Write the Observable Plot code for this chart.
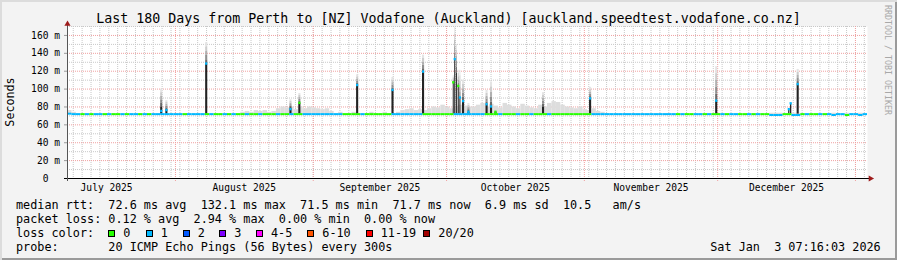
<!DOCTYPE html>
<html>
<head>
<meta charset="utf-8">
<script src="https://cdn.jsdelivr.net/npm/d3@7"></script>
<script src="https://cdn.jsdelivr.net/npm/@observablehq/plot@0.6"></script>
<style>
  html,body{margin:0;padding:0;background:#f3f3f3;}
  #wrap{position:relative;width:897px;height:260px;background:#f3f3f3;overflow:hidden;
        font-family:"DejaVu Sans Mono",monospace;color:#000;
        box-shadow: inset 2px 2px 0 #dcdcdc, inset -2px -2px 0 #9a9a9a;}
  #chart{position:absolute;left:0;top:0;}
  .t{position:absolute;white-space:pre;line-height:14px;font-size:11.8px;}
  #title{position:absolute;left:0;width:897px;top:10.5px;text-align:center;font-size:13.3px;white-space:pre;line-height:16px;}
  #ylab{position:absolute;left:10px;top:101.5px;transform:translate(-50%,-50%) rotate(-90deg);font-size:11.7px;white-space:pre;line-height:14px;}
  #wm{position:absolute;left:888px;top:60px;transform:translate(-50%,-50%) rotate(90deg);font-size:8.3px;color:#a8a8a8;white-space:pre;line-height:10px;}
  .box{position:absolute;width:7px;height:7px;box-sizing:border-box;border:1px solid #000;}
</style>
</head>
<body>
<div id="wrap">
  <div id="title">Last 180 Days from Perth to [NZ] Vodafone (Auckland) [auckland.speedtest.vodafone.co.nz]</div>
  <div id="chart"></div>
  <div id="ylab">Seconds</div>
  <div id="wm">RRDTOOL / TOBI OETIKER</div>
  <div id="legend"></div>
</div>
<script>
// ---------- data ----------
const timeDomain = ["2025-07-07T17:00:00Z", "2026-01-03T17:00:00Z"];
const yMaxMs = 170;
const yTickMs = [0, 20, 40, 60, 80, 100, 120, 140, 160];
const monthStarts = ["2025-07-01","2025-08-01","2025-09-01","2025-10-01","2025-11-01","2025-12-01","2026-01-01"];
const monthLabels = ["July 2025","August 2025","September 2025","October 2025","November 2025","December 2025"];
const minorGridFrom = "2025-07-09T00:00:00Z";

// loss colour legend (pings lost out of 20)
const lossLevels = [0, 1, 2, 3, 5, 10, 19, 20];
const lossLabels = ["0","1","2","3","4-5","6-10","11-19","20/20"];
const lossColors = ["#26ff00","#00b8ff","#0059ff","#7e00ff","#ff00ff","#ff5500","#ff0000","#a10000"];

// daily median rtt (ms), lost pings, highest smoke (ms) — 180 days
const dailyLoss = [
  1,1,1,
  0,1,0,1,1,0,1,0,0,1,0,1,1,0,1,0,1,1,
  1,1,1,1,1,0,1,1,1,1,
  0,1,0,0,1,0,1,0,0,1,0,0,1,0,0,0,1,0,0,1,0,0,
  1,1,1,1,1,1,1,1,1,
  0,0,0,0,1,0,0,0,0,0,0,
  1,1,1,1,1,1,1,
  0,0,0,0,0,0,0,
  1,1,1,1,1,1,1,
  0,0,0,1,0,0,
  0,1,0,0,1,0,0,0,1,0,
  0,0,0,0,0,0,0,0,
  1,1,1,1,1,1,1,1,1,1,1,1,1,1,1,1,1,1,1,
  0,1,0,0,1,1,0,1,0,0,1,0,1,1,0,0,1,0,1,0,0,
  1,1,1,
  0,0,
  1,1,
  0,1,0,0,1,0,1,
  1,1,1,0,1,1,1,1
];
const dailyMedianMs = [
  72.5,72,72,72,72,72,72,72,72,72,72,72,72,72,72,72,72,72,72,72,
  72,72,72,72,72,72,72,72,72,72,72,72,72,72,72,72,72,72,72,72,
  72,72,72,72,72,72,72,72,72,72,72,72,72,72,72,72,72,72,72,72,
  72,72,72,72,72,72,72,72,72,72,72,72,72,72,72,72,72,72,72,72,
  72,72,72,72,72,72,72,72,72,72,72,72,72,72,72,72,72,72,72,72,
  72,72,72,72,72,72,72,72,72,72,72,72,72,72,72,72,72,72,72,72,
  72,72,72,72,72,72,72,72,72,72,72,72,72,72,72,72,72,72,72,72,
  72,72,72,72,72,72,72,72,72,72,72,72,72,72,72,72,72,72,71,71,
  71,72,72,71,71,72,72,72,72,72,72,72,71,72,72,71,72,72,71,72
];
const dailySmokeMaxMs = [
  76,74,73,73,73,73,73,73,73,73,73,73,73,73,73,73,73,73,73,73,
  73,73,73,73,73,73,73,73,73,73,73,73,73,73,73,73,73,73,73,74,
  75,74,76,75,76,74,75,78,80,79,80,77,80,78,80,79,78,77,78,75,
  73,74,73,73,74,73,73,73,74,73,73,74,73,73,74,76,77,78,76,77,
  76,78,80,79,82,80,78,80,82,81,80,80,82,84,80,83,81,79,84,82,
  80,78,83,81,79,78,82,80,84,86,85,82,80,79,78,80,77,76,78,75,
  74,73,73,73,73,73,73,73,73,73,73,73,73,73,73,73,73,73,73,73,
  73,73,73,73,73,73,73,73,73,73,73,73,73,73,73,73,73,73,73,73,
  73,73,73,73,73,73,73,73,73,73,73,73,73,73,73,73,73,73,73,73
];

// latency spikes
const spikeTimes   = ["2025-07-28T19:00","2025-07-29T23:00","2025-08-07T22:00","2025-08-26T21:00","2025-08-28T21:00",
                      "2025-09-10T21:00","2025-09-18T20:00","2025-09-25T17:00","2025-10-02T12:00","2025-10-02T20:00",
                      "2025-10-03T05:00","2025-10-03T15:00","2025-10-04T00:00","2025-10-04T17:00","2025-10-05T22:00",
                      "2025-10-10T00:00","2025-10-11T00:00","2025-10-12T00:00","2025-10-22T17:00","2025-11-02T07:00",
                      "2025-11-30T16:00","2025-12-17T00:00","2025-12-17T10:00","2025-12-19T00:00"];
const spikeDarkTopMs = [80, 77, 128, 79, 84, 104, 98.5, 119, 107, 133, 118, 103, 90, 86, 74, 82.5, 80, 74, 80, 89, 86.5, 77, 83.5, 105];
const spikeMedianMs  = [75, 76, 128, 77, 84, 104, 98.5, 119, 107, 133, null, 103, 90, 86, 74, 82.5, 80, 74, null, 89, 86.5, 77, 83.5, 105];
const spikeMaxMs     = [100, 87, 152, 88, 95, 116, 113, 138, 115, 169, 150, 121, 121, 110, 84, 98.5, 108, 76, 96, 102, 125, 78, 85, 122];
const spikeLoss      = [1, 1, 1, 1, 0, 1, 1, 1, 0, 1, 1, 0, 1, 1, 1, 1, 1, 0, 0, 1, 1, 1, 1, 1];

// legend texts
const statRows = [
  "median rtt:  72.6 ms avg  132.1 ms max  71.5 ms min  71.7 ms now  6.9 ms sd  10.5   am/s",
  "packet loss: 0.12 % avg  2.94 % max  0.00 % min  0.00 % now"
];
const probeText = "probe:       20 ICMP Echo Pings (56 Bytes) every 300s";
const stampText = "Sat Jan  3 07:16:03 2026";

// ---------- build ----------
const colorOf = n => lossColors[lossLevels.findIndex(l => n <= l)];
const t0 = new Date(timeDomain[0]), t1 = new Date(timeDomain[1]);
const days = dailyLoss.map((loss, i) => ({
  a: d3.utcDay.offset(t0, i), b: d3.utcDay.offset(t0, i + 1),
  loss, med: dailyMedianMs[i], smoke: dailySmokeMaxMs[i]
}));
const pxPerMs = 800 / (t1 - t0);
const spikes = spikeTimes.map((t, i) => ({
  t: new Date(t + ":00Z"), dark: spikeDarkTopMs[i], med: spikeMedianMs[i], top: spikeMaxMs[i], loss: spikeLoss[i]
}));
// bar width: 2px, thinner when neighbouring spikes are closer than that
spikes.forEach((s, i) => {
  const gaps = [];
  if (i > 0) gaps.push((s.t - spikes[i - 1].t) * pxPerMs);
  if (i < spikes.length - 1) gaps.push((spikes[i + 1].t - s.t) * pxPerMs);
  s.w = Math.max(1, Math.min(2.1, d3.min(gaps) - 0.6));
});
const greys = ["#6a6a6a","#8f8f8f","#b0b0b0","#cdcdcd","#e4e4e4"];
const smokeLayers = spikes.flatMap(s => greys.map((g, k) => ({
  t: s.t, g, w: s.w,
  y1: s.dark + (s.top - s.dark) * k / greys.length,
  y2: s.dark + (s.top - s.dark) * (k + 1) / greys.length
})));
const months = monthStarts.map(d => new Date(d + "T00:00:00Z"));
const monthMid = monthLabels.map((_, i) => new Date((+months[i] + +months[i + 1]) / 2));
const majorX = months.filter(d => d > t0 && d < t1);
const minorX = d3.utcDay.range(new Date(minorGridFrom), t1, 2);
const minorY = d3.range(10, yMaxMs + 1, 20);
const majorY = d3.range(20, yMaxMs, 20);
const baseMs = 72;

const pink = "#f0a0a0", grey = "#c8c8c8", arrow = "#9e1b1b";

const chart = Plot.plot({
  width: 897, height: 200,
  marginLeft: 67, marginRight: 30, marginTop: 26, marginBottom: 22,
  x: {type: "utc", domain: [t0, t1], axis: null},
  y: {domain: [0, yMaxMs], axis: null},
  style: {background: "transparent", fontFamily: "DejaVu Sans Mono", fontSize: "9.6px", color: "#000", overflow: "visible"},
  marks: [
    Plot.frame({fill: "#ffffff", stroke: null}),
    Plot.ruleY(minorY, {stroke: grey, strokeDasharray: "1,1"}),
    Plot.ruleX(minorX, {stroke: grey, strokeDasharray: "1,1", insetBottom: -2}),
    Plot.ruleY(majorY, {stroke: pink, strokeDasharray: "1,1"}),
    Plot.ruleX(majorX, {stroke: pink, strokeDasharray: "1,1", insetBottom: -3}),
    // light smoke
    Plot.rect(days.filter(d => d.smoke > d.med + 1), {x1: "a", x2: "b", y1: "med", y2: "smoke", fill: "#dddddd"}),
    // spikes
    Plot.ruleX(smokeLayers, {x: "t", y1: "y1", y2: "y2", stroke: "g", strokeWidth: "w"}),
    Plot.ruleX(spikes, {x: "t", y1: baseMs, y2: "dark", stroke: "#232323", strokeWidth: "w"}),
    // median line coloured by loss
    Plot.ruleY(days, {x1: "a", x2: "b", y: "med", stroke: d => colorOf(d.loss), strokeWidth: 2}),
    Plot.ruleX(spikes.filter(d => d.med != null), {x: "t", y1: "med", y2: "med", insetTop: -1.2, insetBottom: -1.2,
      stroke: d => colorOf(d.loss), strokeWidth: 2.2}),
    // axes
    Plot.axisY(yTickMs, {tickSize: 3, tickPadding: 4.5, stroke: "#999",
      tickFormat: d => d === 0 ? "0\u00a0\u00a0" : d + "\u00a0m"}),
    Plot.text(monthLabels, {x: (d, i) => monthMid[i], y: 0, dy: 9.7, fill: "#000"}),
    Plot.ruleY([0], {stroke: "#000", insetLeft: -3, insetRight: -2}),
    Plot.ruleX([t0], {stroke: "#555", insetTop: -3, insetBottom: -3}),
    Plot.dot([0], {frameAnchor: "top-left", symbol: "triangle", r: 2.3, fill: arrow, stroke: null, dy: -2.5}),
    Plot.dot([0], {frameAnchor: "bottom-right", symbol: "triangle", r: 2.3, rotate: 90, fill: arrow, stroke: null, dx: 3})
  ]
});
document.getElementById("chart").appendChild(chart);

// ---------- legend ----------
const legend = document.getElementById("legend");
function put(text, left, top) {
  const s = document.createElement("span");
  s.className = "t"; s.textContent = text;
  s.style.left = left + "px"; s.style.top = top + "px";
  legend.appendChild(s);
  return s;
}
const rowTop = [197.5, 211.5, 225.5, 239.5];
put(statRows[0], 16, rowTop[0]);
put(statRows[1], 16, rowTop[1]);
put("loss color:", 16, rowTop[2]);
const boxX = [108.3, 145.7, 182.7, 219.3, 256, 307.3, 365.7, 423.3];
lossLabels.forEach((lab, i) => {
  const b = document.createElement("div");
  b.className = "box"; b.style.left = boxX[i] + "px"; b.style.top = "229.5px";
  b.style.background = lossColors[i];
  legend.appendChild(b);
  put(lab, boxX[i] + 15, rowTop[2]);
});
put(probeText, 16, rowTop[3]);
const st = put(stampText, 0, rowTop[3]);
st.style.left = ""; st.style.right = "16.3px";
</script>
</body>
</html>
